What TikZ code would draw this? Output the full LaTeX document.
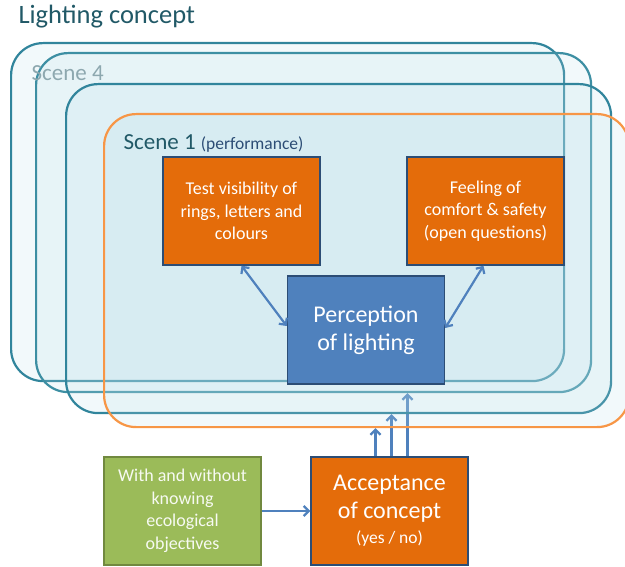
\documentclass[tikz,border=0pt]{standalone}
\usepackage{fontspec}
\setmainfont{Carlito}
\usetikzlibrary{arrows.meta,positioning,backgrounds}

\definecolor{teal1}{HTML}{31859C}
\definecolor{teal2}{HTML}{3D8FA3}
\definecolor{scenefill}{HTML}{B7DDE8}
\definecolor{orng}{HTML}{E46C0A}
\definecolor{orngline}{HTML}{F79646}
\definecolor{blu}{HTML}{4F81BD}
\definecolor{bluline}{HTML}{2C4D75}
\definecolor{grn}{HTML}{9BBB59}
\definecolor{grnline}{HTML}{71893F}
\definecolor{titlecol}{HTML}{215967}

\begin{document}
\begin{tikzpicture}[
  x=1pt, y=-1pt,
  scene/.style={draw=teal1, line width=2.2pt, rounded corners=32pt,
                fill=scenefill, fill opacity=0.18, anchor=north west,
                inner sep=0pt},
  blk/.style={draw=bluline, line width=1.5pt, fill=orng, text=white,
              align=center, minimum width=157pt, minimum height=108pt,
              font=\fontsize{18}{22.5}\selectfont},
  arr/.style={{Straight Barb[length=5pt,width=10pt]}-{Straight Barb[length=5pt,width=10pt]},
              draw=blu, line width=2.2pt},
  uparr/.style={-{Straight Barb[length=5pt,width=10pt]}, draw=blu, line width=2.2pt}]
\useasboundingbox (0,0) rectangle (625,567);

% the four scenes
\node[scene, minimum width=553pt, minimum height=338pt] (scA) at (10,42) {};
\node[scene, draw=teal2, minimum width=555pt, minimum height=339pt] (scB) at (35,52) {};
\node[scene, minimum width=545pt, minimum height=329pt] (scC) at (65,83) {};
\node[scene, draw=orngline, minimum width=525pt, minimum height=313pt] (scD) at (103,113) {};

\node[anchor=west, text=titlecol, font=\fontsize{26.5}{30}\selectfont] (title) at (15,17) {Lighting concept};
\node[anchor=west, text=teal1!45!gray!70, font=\fontsize{23}{26}\selectfont] (lbl4) at (28,73) {Scene 4};
\node[anchor=west, text=titlecol, font=\fontsize{23}{26}\selectfont] (lbl1) at (120,143)
  {Scene 1 {\fontsize{17.5}{20}\selectfont\color{bluline}(performance)}};

% boxes
\node[blk] (test) at (241.5,211) {Test visibility of\\rings, letters and\\colours};
\node[blk] (feel) at (485.5,211) {Feeling of\\comfort \& safety\\(open questions)};
\node[blk, fill=blu, font=\fontsize{24}{28}\selectfont] (perc) at (366,330) {Perception\\of lighting};
\node[blk, fill=grn, draw=grnline, text=white!92!grn] (know) at (182.5,511)
  {With and without\\knowing\\ecological\\objectives};
\node[blk, font=\fontsize{24}{28}\selectfont] (accept) at (389.5,511)
  {Acceptance\\of concept\\[-3pt]{\fontsize{17.5}{20}\selectfont(yes / no)}};

\draw[arr] (test.south) -- ([yshift=4pt]perc.west);
\draw[arr] ([xshift=-2pt]feel.south) -- ([yshift=2pt]perc.east);
\draw[uparr] (know) -- (accept);

\begin{scope}[on background layer]
\foreach \dx/\sc in {-14/scD, 2/scC, 18/scB}
  \draw[uparr] ([xshift=\dx pt]accept.north) -- ([xshift=\dx pt]accept.north |- \sc.south);
\end{scope}
\end{tikzpicture}
\end{document}
